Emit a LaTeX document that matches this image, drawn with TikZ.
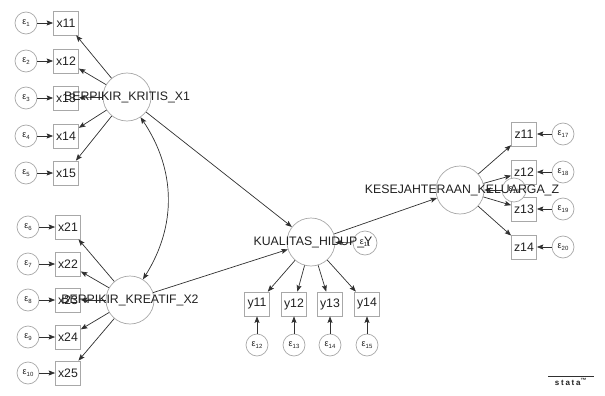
\documentclass[tikz,border=0pt]{standalone}
\usepackage{fontspec}
\setmainfont{Liberation Sans}
\usetikzlibrary{arrows.meta}
\definecolor{shapegray}{HTML}{A8A8A8}
\definecolor{linegray}{HTML}{303030}
\definecolor{txtgray}{HTML}{202020}
\newcommand{\epslab}[1]{{\fontsize{9}{9}\selectfont ε\raisebox{-0.35ex}{\fontsize{6}{6}\selectfont #1}}}
\begin{document}
\begin{tikzpicture}[x=1pt,y=-1pt,
  obs/.style={draw=shapegray, line width=0.7pt, fill=white, minimum width=25pt, minimum height=24pt, inner sep=0pt, font=\fontsize{12.3}{14}\selectfont, text=txtgray},
  lat/.style={circle, draw=shapegray, line width=0.7pt, fill=white, minimum size=48pt, inner sep=0pt},
  err/.style={circle, draw=shapegray, line width=0.7pt, fill=white, minimum size=22pt, inner sep=0pt, text=txtgray},
  lbl/.style={font=\fontsize{12.3}{14}\selectfont, text=txtgray, inner sep=0pt},
  arr/.style={draw=linegray, line width=0.7pt, -{Stealth[length=6.5pt,width=5pt,inset=1.2pt]}},
  cov/.style={draw=linegray, line width=0.7pt, {Stealth[length=6.5pt,width=5pt,inset=1.2pt]}-{Stealth[length=6.5pt,width=5pt,inset=1.2pt]}}
]
\useasboundingbox (0,0) rectangle (605,396);

% latent variables
\node[lat] (k1) at (127,97) {};
\node[lat] (k2) at (130,300) {};
\node[lat] (kh) at (311,242) {};
\node[lat] (kk) at (460,190) {};

% X1 block
\foreach \i/\y in {1/23,2/61,3/98,4/136,5/173}{
  \node[obs] (x1\i) at (66,\y) {x1\i};
  \node[err] (e\i) at (26,\y) {\epslab{\i}};
}
% X2 block
\foreach \j/\k/\y in {1/6/227,2/7/264,3/8/300,4/9/337,5/10/373}{
  \node[obs] (x2\j) at (68,\y) {x2\j};
  \node[err] (e\k) at (28,\y) {\epslab{\k}};
}
% Y block
\foreach \j/\k/\x in {1/12/257,2/13/294,3/14/330,4/15/367}{
  \node[obs] (y1\j) at (\x,304) {y1\j};
  \node[err] (e\k) at (\x,345) {\epslab{\k}};
}
% Z block
\foreach \j/\k/\y in {1/17/134,2/18/172,3/19/209,4/20/247}{
  \node[obs] (z1\j) at (524,\y) {z1\j};
  \node[err] (e\k) at (563,\y) {\epslab{\k}};
}
\node[err, minimum size=24pt] (e11) at (365,243) {\epslab{11}};
\node[err, minimum size=24pt] (e16) at (514,190) {\epslab{16}};

% arrows
\foreach \i in {1,...,5}{
  \draw[arr] (e\i) -- (x1\i);
  \draw[arr] (k1) -- (x1\i);
}
\foreach \j/\k in {1/6,2/7,3/8,4/9,5/10}{
  \draw[arr] (e\k) -- (x2\j);
  \draw[arr] (k2) -- (x2\j);
}
\foreach \j/\k in {1/12,2/13,3/14,4/15}{
  \draw[arr] (e\k) -- (y1\j);
  \draw[arr] (kh) -- (y1\j);
}
\foreach \j/\k in {1/17,2/18,3/19,4/20}{
  \draw[arr] (e\k) -- (z1\j);
  \draw[arr] (kk) -- (z1\j);
}
\draw[cov] (k1) to[bend left=33] (k2);
\draw[arr] (k1) -- (kh);
\draw[arr] (k2) -- (kh);
\draw[arr] (kh) -- (kk);
\draw[arr] (e11) -- (kh);
\draw[arr] (e16) -- (kk);

% latent labels
\node[lbl] (l1) at (k1) {BERPIKIR\_KRITIS\_X1};
\node[lbl] (l2) at (k2) {BERPIKIR\_KREATIF\_X2};
\node[lbl] (l3) at (313,242) {KUALITAS\_HIDUP\_Y};
\node[lbl] (l4) at (462,190) {KESEJAHTERAAN\_KELUARGA\_Z};

% stata logo
\coordinate (logoL) at (548,376.5);
\coordinate (logoR) at (594,376.5);
\draw[linegray, line width=1pt] (logoL) -- (logoR);
\node[inner sep=0pt, anchor=north, text=txtgray, font=\fontsize{8}{8}\selectfont\bfseries\addfontfeatures{LetterSpace=22}] (logo) at (571,378.5) {stata\textsuperscript{™}};
\end{tikzpicture}
\end{document}
